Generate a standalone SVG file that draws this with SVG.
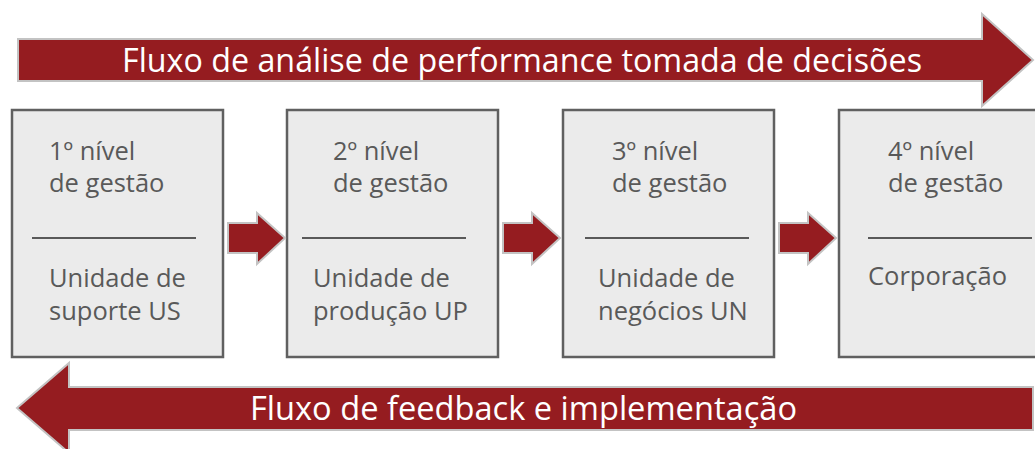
<svg xmlns="http://www.w3.org/2000/svg" width="1035" height="449" viewBox="0 0 1035 449">
<style>
.big{fill:#951c20;stroke:#c3c3c3;stroke-width:2}
.small{fill:#951c20;stroke:#c3c3c3;stroke-width:2}
.box{fill:#ebebeb;stroke:#606060;stroke-width:2.5}
.sep{stroke:#595959;stroke-width:2}
.t{font-family:"Open Sans","Liberation Sans",sans-serif;font-size:25.5px;fill:#595959}
.h{font-family:"Open Sans","Liberation Sans",sans-serif;font-size:32px;fill:#ffffff}
</style>
<rect width="1035" height="449" fill="#ffffff"/>
<g id="flow-top">
<polygon class="big" points="18,39 982,39 982,14 1033,60 982,106 982,81 18,81"/>
<text class="h" x="122" y="72" textLength="800" lengthAdjust="spacingAndGlyphs">Fluxo de análise de performance tomada de decisões</text>
</g>
<g id="flow-bottom">
<polygon class="big" points="1033,387 69,387 69,363 17,408 69,453 69,430 1033,430"/>
<text class="h" x="250" y="420" textLength="547" lengthAdjust="spacingAndGlyphs">Fluxo de feedback e implementação</text>
</g>
<g id="node1">
<rect class="box" x="12" y="110" width="211" height="247"/>
<text class="t" x="49" y="160">1º nível</text>
<text class="t" x="49" y="192">de gestão</text>
<line class="sep" x1="32" y1="238" x2="196" y2="238"/>
<text class="t" x="49" y="287">Unidade de</text>
<text class="t" x="49" y="320">suporte US</text>
</g>
<g id="node2">
<rect class="box" x="287" y="110" width="211" height="247"/>
<text class="t" x="333" y="160">2º nível</text>
<text class="t" x="333" y="192">de gestão</text>
<line class="sep" x1="302" y1="238" x2="466" y2="238"/>
<text class="t" x="313" y="287">Unidade de</text>
<text class="t" x="313" y="320">produção UP</text>
</g>
<g id="node3">
<rect class="box" x="563" y="110" width="211" height="247"/>
<text class="t" x="612" y="160">3º nível</text>
<text class="t" x="612" y="192">de gestão</text>
<line class="sep" x1="585" y1="238" x2="749" y2="238"/>
<text class="t" x="598" y="287">Unidade de</text>
<text class="t" x="598" y="320">negócios UN</text>
</g>
<g id="node4">
<rect class="box" x="839" y="110" width="211" height="247"/>
<text class="t" x="888" y="160">4º nível</text>
<text class="t" x="888" y="192">de gestão</text>
<line class="sep" x1="868" y1="238" x2="1032" y2="238"/>
<text class="t" x="868" y="285">Corporação</text>
</g>
<g id="connectors">
<polygon class="small" points="228,223 257,223 257,213 285,238 257,264 257,253 228,253"/>
<polygon class="small" points="503,223 532,223 532,213 560,238 532,264 532,253 503,253"/>
<polygon class="small" points="779,223 808,223 808,213 836,238 808,264 808,253 779,253"/>
</g>
</svg>
